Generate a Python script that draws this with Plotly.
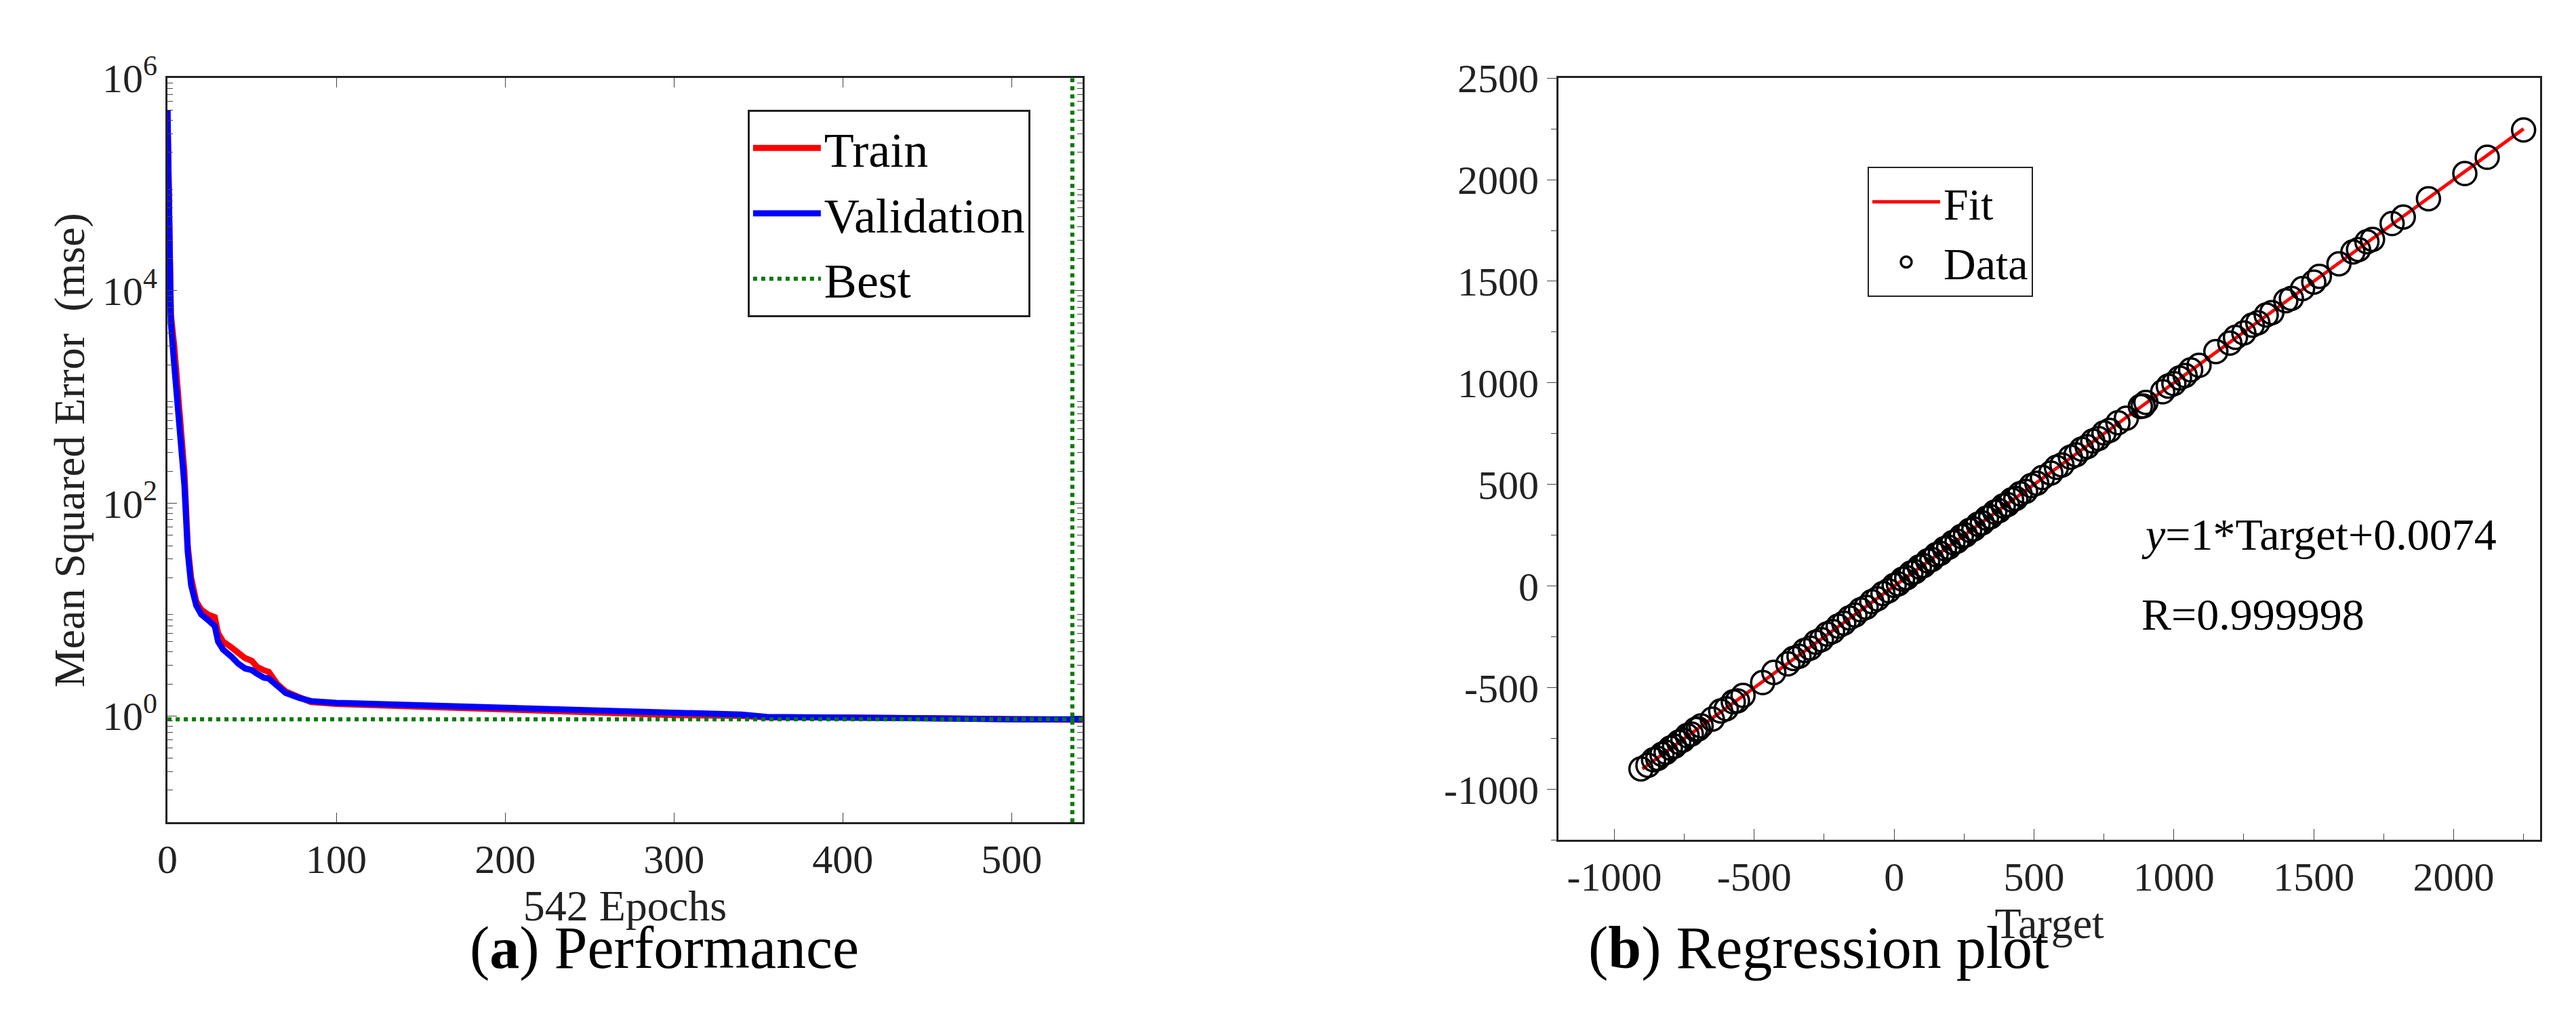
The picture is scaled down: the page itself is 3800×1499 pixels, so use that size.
import plotly.graph_objects as go

# ---- Performance data ----
epochs = [0, 1, 2, 4, 6, 8, 10, 12, 14, 17, 20, 24, 28, 30, 33, 38, 42, 46, 50, 53, 57, 60, 65, 70, 78, 85, 100, 150, 200, 250, 300, 340, 355, 400, 420, 450, 500, 542]
train_mse = [5e5, 9000, 6000, 3000, 1200, 500, 200, 40, 20, 12, 10, 9, 8.5, 6, 5, 4.4, 3.9, 3.5, 3.3, 2.9, 2.7, 2.6, 2.0, 1.7, 1.5, 1.35, 1.3, 1.22, 1.15, 1.08, 1.02, 1.0, 0.97, 0.97, 0.96, 0.95, 0.93, 0.92]
val_mse = [5e5, 8000, 5000, 2000, 800, 350, 150, 35, 17, 11, 9, 8, 7, 5, 4.2, 3.6, 3.1, 2.8, 2.7, 2.5, 2.3, 2.25, 1.9, 1.65, 1.48, 1.38, 1.33, 1.26, 1.18, 1.12, 1.06, 1.03, 0.98, 0.98, 0.97, 0.95, 0.93, 0.93]
best_epoch = 536
best_mse = 0.93
y_tickvals = [1, 100, 1e4, 1e6]
y_ticktext = ["10<sup>0</sup>", "10<sup>2</sup>", "10<sup>4</sup>", "10<sup>6</sup>"]
x_tickvals = [0, 100, 200, 300, 400, 500]

# ---- Regression data ----
targets = [-905, -880, -860, -845, -830, -815, -800, -785, -770, -755, -740, -725, -710, -700, -690, -650, -620, -600, -575, -560, -540, -470, -430, -380, -360, -340, -320, -300, -280, -260,
           -240, -220, -200, -180, -160, -140, -120, -100, -80, -60, -40, -20, 0, 15, 30, 45, 60, 75, 90, 105, 120, 135, 150, 165, 180, 195, 210, 225, 240, 255,
           270, 285, 300, 315, 330, 345, 360, 375, 390, 405, 420, 435, 450, 470, 490, 510, 530, 560, 580, 600, 630, 650, 670, 690, 710, 730, 750, 770, 800, 830,
           880, 890, 900, 960, 980, 1000, 1020, 1040, 1060, 1090, 1150, 1200, 1220, 1250, 1280, 1300, 1330, 1350, 1400, 1420, 1460, 1500, 1520, 1590, 1640, 1660, 1690, 1710, 1780, 1820,
           1910, 2040, 2120, 2250]
outputs = [-900, -882, -855, -848, -828, -818, -797, -788, -768, -758, -736, -728, -706, -703, -688, -655, -615, -604, -570, -565, -538, -475, -425, -383, -356, -345, -317, -305, -276, -264,
           -236, -224, -197, -183, -157, -143, -117, -104, -77, -63, -37, -23, 3, 11, 34, 41, 64, 71, 94, 101, 124, 131, 154, 161, 184, 191, 214, 221, 244, 251,
           274, 281, 304, 311, 334, 341, 364, 371, 394, 401, 424, 431, 454, 466, 494, 506, 534, 556, 584, 596, 634, 646, 674, 686, 714, 726, 754, 766, 804, 826,
           884, 886, 904, 956, 984, 996, 1024, 1036, 1064, 1086, 1154, 1196, 1224, 1246, 1284, 1296, 1334, 1346, 1404, 1416, 1464, 1496, 1524, 1586, 1644, 1656, 1694, 1706, 1784, 1816,
           1906, 2030, 2110, 2245]
fit_x = [-900, 2250]
fit_y = [-899.9926, 2250.0074]
x2_tickvals = [-1000, -500, 0, 500, 1000, 1500, 2000]
x2_ticktext = ["-1000", "-500", "0", "500", "1000", "1500", "2000"]
y2_tickvals = [-1000, -500, 0, 500, 1000, 1500, 2000, 2500]
y2_ticktext = ["-1000", "-500", "0", "500", "1000", "1500", "2000", "2500"]

minor_log = [m * 10 ** e for e in range(-1, 6) for m in range(2, 10)]

FONT = "Liberation Serif"
fig = go.Figure()

fig.add_trace(go.Scatter(x=epochs, y=train_mse, mode="lines", name="Train",
                         line=dict(color="#ff0000", width=9), xaxis="x", yaxis="y", legend="legend"))
fig.add_trace(go.Scatter(x=epochs, y=val_mse, mode="lines", name="Validation",
                         line=dict(color="#0000ff", width=9), xaxis="x", yaxis="y", legend="legend"))
fig.add_trace(go.Scatter(x=[0, 542], y=[best_mse, best_mse], mode="lines", name="Best",
                         line=dict(color="#007a00", width=6, dash="dot"), xaxis="x", yaxis="y", legend="legend"))
fig.add_trace(go.Scatter(x=[best_epoch, best_epoch], y=[0.1, 1e6], mode="lines", showlegend=False,
                         line=dict(color="#007a00", width=6, dash="dot"), xaxis="x", yaxis="y"))

fig.add_trace(go.Scatter(x=fit_x, y=fit_y, mode="lines", name="Fit",
                         line=dict(color="#ff0000", width=5), xaxis="x2", yaxis="y2", legend="legend2"))
fig.add_trace(go.Scatter(x=targets, y=outputs, mode="markers", name="Data",
                         marker=dict(symbol="circle-open", size=34, color="black", line=dict(width=3.5)),
                         xaxis="x2", yaxis="y2", legend="legend2"))

tickfont = dict(family=FONT, size=60, color="#222")
titlefont = dict(family=FONT, size=64, color="#222")
fig.update_layout(
    width=3800, height=1499, margin=dict(l=0, r=0, t=0, b=0),
    paper_bgcolor="white", plot_bgcolor="white",
    font=dict(family=FONT, color="#222"),
    xaxis=dict(domain=[0.0592, 0.4158], anchor="y", range=[0, 542], tickvals=x_tickvals,
               ticks="inside", ticklen=14, mirror="ticks", showline=True, linecolor="#222", linewidth=3,
               showgrid=False, zeroline=False, tickfont=tickfont,
               title=dict(text="542 Epochs", font=titlefont, standoff=0)),
    yaxis=dict(domain=[0.2015, 0.9546], anchor="x", type="log", range=[-1, 6],
               tickvals=y_tickvals, ticktext=y_ticktext, ticks="inside", ticklen=14, mirror="ticks",
               minor=dict(tickvals=minor_log, ticks="inside", ticklen=8, showgrid=False),
               showline=True, linecolor="#222", linewidth=3, showgrid=False, zeroline=False, tickfont=tickfont,
               title=dict(text="Mean Squared Error  (mse)", font=titlefont, standoff=6)),
    xaxis2=dict(domain=[0.6013, 0.984], anchor="y2", range=[-1200, 2310], tickvals=x2_tickvals, ticktext=x2_ticktext,
                ticks="inside", ticklen=16, minor=dict(ticks="inside", ticklen=9, dtick=250),
                showline=True, linecolor="#222", linewidth=3, mirror=True,
                showgrid=False, zeroline=False, tickfont=tickfont,
                title=dict(text="Target", font=titlefont, standoff=0)),
    yaxis2=dict(domain=[0.1835, 0.9546], anchor="x2", range=[-1250, 2500], tickvals=y2_tickvals, ticktext=y2_ticktext,
                ticks="outside", ticklen=14, minor=dict(ticks="outside", ticklen=8, dtick=250),
                showline=True, linecolor="#222", linewidth=3, mirror=True,
                showgrid=False, zeroline=False, tickfont=tickfont),
    legend=dict(x=0.2853, y=0.9226, xanchor="left", yanchor="top", bgcolor="white",
                bordercolor="#222", borderwidth=3, font=dict(family=FONT, size=72, color="black"),
                itemwidth=100, tracegroupgap=0),
    legend2=dict(x=0.7218, y=0.8646, xanchor="left", yanchor="top", bgcolor="white",
                 bordercolor="#222", borderwidth=2, font=dict(family=FONT, size=66, color="black"),
                 itemwidth=100),
    annotations=[
        dict(text="(<b>a</b>) Performance", x=0.1766, y=0.04, xref="paper", yref="paper",
             showarrow=False, font=dict(family=FONT, size=88, color="black")),
        dict(text="(<b>b</b>) Regression plot", x=0.793, y=0.04, xref="paper", yref="paper",
             showarrow=False, font=dict(family=FONT, size=88, color="black")),
        dict(text="<i>y</i>=1*Target+0.0074", x=0.828, y=1 - 760 / 1499, xref="paper", yref="paper",
             xanchor="left", showarrow=False, font=dict(family=FONT, size=66, color="black")),
        dict(text="R=0.999998", x=0.828, y=1 - 882 / 1499, xref="paper", yref="paper",
             xanchor="left", showarrow=False, font=dict(family=FONT, size=66, color="black")),
    ],
)

fig.write_html("out.html")
